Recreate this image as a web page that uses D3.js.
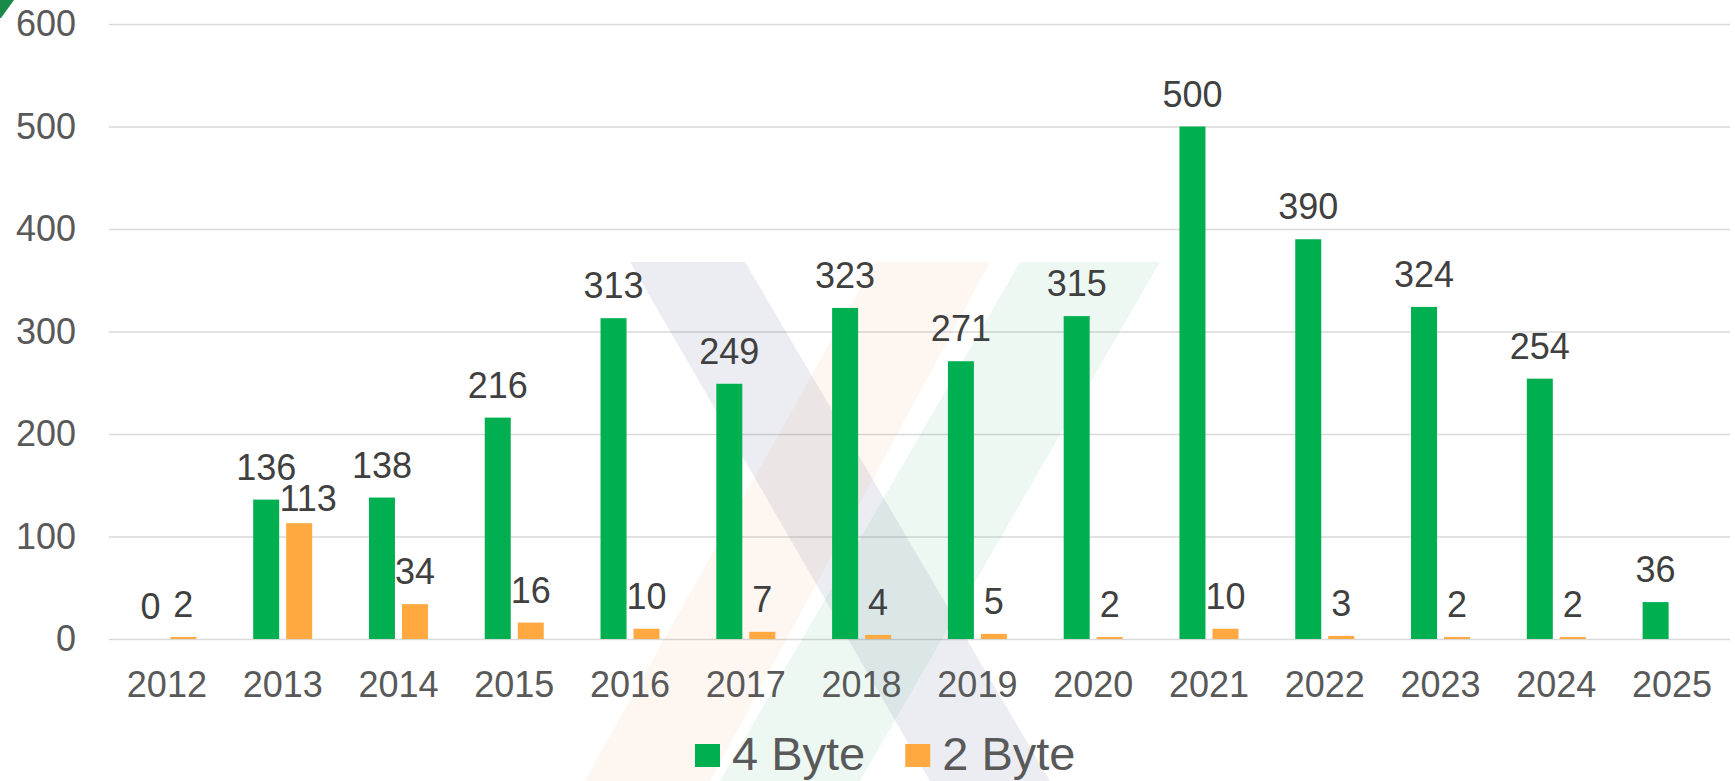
<!DOCTYPE html>
<html>
<head>
<meta charset="utf-8">
<script src="https://cdn.jsdelivr.net/npm/d3@7"></script>
<style>
  html, body { margin: 0; padding: 0; background: #fff; }
  svg { display: block; font-family: "Liberation Sans", Arial, sans-serif; }
</style>
</head>
<body>
<svg id="chart" width="1735" height="781"></svg>
<script>
"use strict";

const years = ["2012","2013","2014","2015","2016","2017","2018","2019","2020","2021","2022","2023","2024","2025"];
const fourByte = [0, 136, 138, 216, 313, 249, 323, 271, 315, 500, 390, 324, 254, 36];
const twoByte = [2, 113, 34, 16, 10, 7, 4, 5, 2, 10, 3, 2, 2, null];
const seriesNames = ["4 Byte", "2 Byte"];
const seriesColors = ["#00b050", "#ffa940"];
const yTicks = [0, 100, 200, 300, 400, 500, 600];

const svg = d3.select("#chart");
const width = +svg.attr("width");
const margin = {top: 24, right: 5, bottom: 142, left: 109};
const plotBottom = 639;

let x = d3.scaleBand().domain(years).range([margin.left, width - margin.right]).padding(0);
let xs = d3.scaleBand().domain(seriesNames).range([0, 59]).paddingInner(0.212);
let y = d3.scaleLinear().domain([0, 600]).range([plotBottom, margin.top]);

svg.append("rect").attr("width", width).attr("height", 781).attr("fill", "#fff");

// gridlines + y labels
const yAxis = svg.append("g")
    .attr("transform", `translate(${margin.left},0)`)
    .call(d3.axisLeft(y).tickValues(yTicks).tickSize(-(width - margin.right - margin.left)).tickPadding(33));
yAxis.select(".domain").remove();
yAxis.selectAll(".tick line").attr("stroke", "#d9d9d9").attr("stroke-width", 1.5);
yAxis.selectAll(".tick text").attr("fill", "#595959").style("font-size", "36px");

// faint watermark behind the bars
const wm = svg.append("g");
wm.append("path").attr("d", "M630,262 L745,262 L1050,781 L930,781 Z").attr("fill", "rgb(70,80,140)").attr("opacity", 0.1);
wm.append("path").attr("d", "M875,262 L990,262 L710,781 L585,781 Z").attr("fill", "rgb(240,130,60)").attr("opacity", 0.07);
wm.append("path").attr("d", "M1020,262 L1160,262 L860,781 L720,781 Z").attr("fill", "rgb(0,150,80)").attr("opacity", 0.07);
svg.append("path").attr("d", "M0,0 L14,0 L1,18 L0,18 Z").attr("fill", "#1a8a4a");

// bars
const rows = years.map((yr, i) => ({year: yr, values: [fourByte[i], twoByte[i]]}));
const groupOffset = (x.bandwidth() - 59) / 2;

const groups = svg.append("g").selectAll("g")
  .data(rows)
  .join("g")
    .attr("transform", d => `translate(${x(d.year) + groupOffset},0)`);

groups.selectAll("rect")
  .data(d => d.values.map((v, k) => ({key: seriesNames[k], k, v})).filter(e => e.v !== null))
  .join("rect")
    .attr("x", d => xs(d.key))
    .attr("y", d => y(d.v))
    .attr("width", xs.bandwidth())
    .attr("height", d => y(0) - y(d.v))
    .attr("fill", d => seriesColors[d.k]);

// value labels (Excel nudged the 2013 orange label out of the way)
function nudge(year, k) {
  if (year === "2013" && k === 1) return [9, 8];
  return [0, 0];
}
groups.each(function(row) {
  d3.select(this).selectAll("text")
    .data(row.values.map((v, k) => ({key: seriesNames[k], k, v})).filter(e => e.v !== null))
    .join("text")
      .attr("x", d => xs(d.key) + xs.bandwidth() / 2 + nudge(row.year, d.k)[0])
      .attr("y", d => y(d.v) - 20 + nudge(row.year, d.k)[1])
      .attr("text-anchor", "middle")
      .attr("fill", "#404040")
      .style("font-size", "36px")
      .text(d => d.v);
});

// x labels
const xAxis = svg.append("g")
    .attr("transform", `translate(0,${plotBottom})`)
    .call(d3.axisBottom(x).tickSize(0).tickPadding(32));
xAxis.select(".domain").remove();
xAxis.selectAll(".tick text").attr("fill", "#595959").style("font-size", "36px");

// legend
const legend = svg.append("g").attr("transform", "translate(695,0)");
let lx = 0;
seriesNames.forEach((name, k) => {
  legend.append("rect").attr("x", lx).attr("y", 744).attr("width", 25).attr("height", 23).attr("fill", seriesColors[k]);
  const t = legend.append("text").attr("x", lx + 37).attr("y", 770)
    .attr("fill", "#595959").style("font-size", "47px").text(name);
  lx += 37 + t.node().getComputedTextLength() + 40;
});
</script>
</body>
</html>
